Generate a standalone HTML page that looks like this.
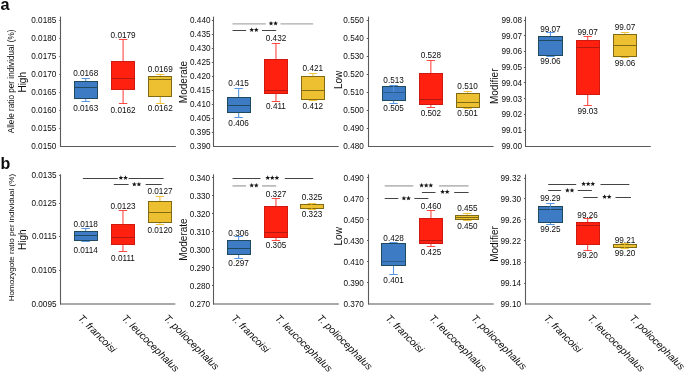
<!DOCTYPE html>
<html><head><meta charset="utf-8"><style>
html,body{margin:0;padding:0;background:#fff;}
body{width:685px;height:372px;overflow:hidden;}
svg{display:block;will-change:transform;}
text{font-family:"Liberation Sans",sans-serif;fill:#0c0c0c;}
</style></head><body>
<svg width="685" height="372" viewBox="0 0 685 372">
<rect width="685" height="372" fill="#fff"/>
<line x1="60.00" y1="146.50" x2="175.80" y2="146.50" stroke="#5a5a5a" stroke-width="1.1"/>
<line x1="60.50" y1="16.60" x2="60.50" y2="146.80" stroke="#5a5a5a" stroke-width="1.1"/>
<line x1="59.30" y1="20.50" x2="60.70" y2="20.50" stroke="#5a5a5a" stroke-width="1"/>
<text x="56.30" y="23.04" font-size="8.2" text-anchor="end" >0.0185</text>
<line x1="59.30" y1="38.50" x2="60.70" y2="38.50" stroke="#5a5a5a" stroke-width="1"/>
<text x="56.30" y="41.04" font-size="8.2" text-anchor="end" >0.0180</text>
<line x1="59.30" y1="56.50" x2="60.70" y2="56.50" stroke="#5a5a5a" stroke-width="1"/>
<text x="56.30" y="59.04" font-size="8.2" text-anchor="end" >0.0175</text>
<line x1="59.30" y1="74.50" x2="60.70" y2="74.50" stroke="#5a5a5a" stroke-width="1"/>
<text x="56.30" y="77.04" font-size="8.2" text-anchor="end" >0.0170</text>
<line x1="59.30" y1="92.50" x2="60.70" y2="92.50" stroke="#5a5a5a" stroke-width="1"/>
<text x="56.30" y="95.04" font-size="8.2" text-anchor="end" >0.0165</text>
<line x1="59.30" y1="110.50" x2="60.70" y2="110.50" stroke="#5a5a5a" stroke-width="1"/>
<text x="56.30" y="113.04" font-size="8.2" text-anchor="end" >0.0160</text>
<line x1="59.30" y1="128.50" x2="60.70" y2="128.50" stroke="#5a5a5a" stroke-width="1"/>
<text x="56.30" y="131.04" font-size="8.2" text-anchor="end" >0.0155</text>
<text x="56.30" y="149.04" font-size="8.2" text-anchor="end" >0.0150</text>
<text x="0" y="0" font-size="10" text-anchor="middle" transform="translate(26.00,82.30) rotate(-90)">High</text>
<line x1="85.75" y1="78.50" x2="85.75" y2="81.00" stroke="#5596e6" stroke-width="1.1"/>
<line x1="85.75" y1="99.00" x2="85.75" y2="101.50" stroke="#5596e6" stroke-width="1.1"/>
<line x1="81.55" y1="78.50" x2="89.95" y2="78.50" stroke="#5596e6" stroke-width="1"/>
<line x1="81.55" y1="101.50" x2="89.95" y2="101.50" stroke="#5596e6" stroke-width="1"/>
<rect x="74.50" y="81.50" width="23.00" height="17.00" fill="#3d7cc4" stroke="#1f4a5e" stroke-width="1"/>
<line x1="74.50" y1="87.50" x2="97.50" y2="87.50" stroke="#1f4a5e" stroke-width="1"/>
<line x1="123.10" y1="39.50" x2="123.10" y2="61.00" stroke="#ff4a44" stroke-width="1.1"/>
<line x1="123.10" y1="90.00" x2="123.10" y2="103.50" stroke="#ff4a44" stroke-width="1.1"/>
<line x1="118.90" y1="39.50" x2="127.30" y2="39.50" stroke="#ff4a44" stroke-width="1"/>
<line x1="118.90" y1="103.50" x2="127.30" y2="103.50" stroke="#ff4a44" stroke-width="1"/>
<rect x="111.50" y="61.50" width="23.00" height="28.00" fill="#ff2010" stroke="#d01a10" stroke-width="1"/>
<line x1="111.50" y1="78.50" x2="134.50" y2="78.50" stroke="#b01a10" stroke-width="1"/>
<line x1="160.25" y1="74.50" x2="160.25" y2="76.00" stroke="#f2c43c" stroke-width="1.1"/>
<line x1="160.25" y1="97.00" x2="160.25" y2="103.50" stroke="#f2c43c" stroke-width="1.1"/>
<line x1="156.05" y1="74.50" x2="164.45" y2="74.50" stroke="#f2c43c" stroke-width="1"/>
<line x1="156.05" y1="103.50" x2="164.45" y2="103.50" stroke="#f2c43c" stroke-width="1"/>
<rect x="148.50" y="76.50" width="23.00" height="20.00" fill="#ecc030" stroke="#806a14" stroke-width="1"/>
<line x1="148.50" y1="79.50" x2="171.50" y2="79.50" stroke="#806a14" stroke-width="1"/>
<text x="85.70" y="76.44" font-size="8.2" text-anchor="middle" >0.0168</text>
<text x="85.70" y="111.24" font-size="8.2" text-anchor="middle" >0.0163</text>
<text x="123.10" y="38.44" font-size="8.2" text-anchor="middle" >0.0179</text>
<text x="123.10" y="112.74" font-size="8.2" text-anchor="middle" >0.0162</text>
<text x="160.20" y="72.14" font-size="8.2" text-anchor="middle" >0.0169</text>
<text x="160.20" y="111.24" font-size="8.2" text-anchor="middle" >0.0162</text>
<line x1="213.00" y1="146.50" x2="338.70" y2="146.50" stroke="#5a5a5a" stroke-width="1.1"/>
<line x1="213.50" y1="16.60" x2="213.50" y2="146.80" stroke="#5a5a5a" stroke-width="1.1"/>
<line x1="211.90" y1="20.50" x2="213.30" y2="20.50" stroke="#5a5a5a" stroke-width="1"/>
<text x="210.50" y="23.04" font-size="8.2" text-anchor="end" >0.440</text>
<line x1="211.90" y1="34.50" x2="213.30" y2="34.50" stroke="#5a5a5a" stroke-width="1"/>
<text x="210.50" y="37.08" font-size="8.2" text-anchor="end" >0.435</text>
<line x1="211.90" y1="48.50" x2="213.30" y2="48.50" stroke="#5a5a5a" stroke-width="1"/>
<text x="210.50" y="51.12" font-size="8.2" text-anchor="end" >0.430</text>
<line x1="211.90" y1="62.50" x2="213.30" y2="62.50" stroke="#5a5a5a" stroke-width="1"/>
<text x="210.50" y="65.16" font-size="8.2" text-anchor="end" >0.425</text>
<line x1="211.90" y1="76.50" x2="213.30" y2="76.50" stroke="#5a5a5a" stroke-width="1"/>
<text x="210.50" y="79.20" font-size="8.2" text-anchor="end" >0.420</text>
<line x1="211.90" y1="90.50" x2="213.30" y2="90.50" stroke="#5a5a5a" stroke-width="1"/>
<text x="210.50" y="93.24" font-size="8.2" text-anchor="end" >0.415</text>
<line x1="211.90" y1="104.50" x2="213.30" y2="104.50" stroke="#5a5a5a" stroke-width="1"/>
<text x="210.50" y="107.28" font-size="8.2" text-anchor="end" >0.410</text>
<line x1="211.90" y1="118.50" x2="213.30" y2="118.50" stroke="#5a5a5a" stroke-width="1"/>
<text x="210.50" y="121.32" font-size="8.2" text-anchor="end" >0.405</text>
<line x1="211.90" y1="132.50" x2="213.30" y2="132.50" stroke="#5a5a5a" stroke-width="1"/>
<text x="210.50" y="135.36" font-size="8.2" text-anchor="end" >0.395</text>
<text x="210.50" y="149.40" font-size="8.2" text-anchor="end" >0.390</text>
<text x="0" y="0" font-size="10" text-anchor="middle" transform="translate(186.90,82.00) rotate(-90)">Moderate</text>
<line x1="238.65" y1="88.50" x2="238.65" y2="97.00" stroke="#5596e6" stroke-width="1.1"/>
<line x1="238.65" y1="113.00" x2="238.65" y2="117.50" stroke="#5596e6" stroke-width="1.1"/>
<line x1="234.45" y1="88.50" x2="242.85" y2="88.50" stroke="#5596e6" stroke-width="1"/>
<line x1="234.45" y1="117.50" x2="242.85" y2="117.50" stroke="#5596e6" stroke-width="1"/>
<rect x="227.50" y="97.50" width="23.00" height="15.00" fill="#3d7cc4" stroke="#1f4a5e" stroke-width="1"/>
<line x1="227.50" y1="105.50" x2="250.50" y2="105.50" stroke="#1f4a5e" stroke-width="1"/>
<line x1="275.95" y1="43.50" x2="275.95" y2="59.00" stroke="#ff4a44" stroke-width="1.1"/>
<line x1="275.95" y1="94.00" x2="275.95" y2="101.50" stroke="#ff4a44" stroke-width="1.1"/>
<line x1="271.75" y1="43.50" x2="280.15" y2="43.50" stroke="#ff4a44" stroke-width="1"/>
<line x1="271.75" y1="101.50" x2="280.15" y2="101.50" stroke="#ff4a44" stroke-width="1"/>
<rect x="264.50" y="59.50" width="23.00" height="34.00" fill="#ff2010" stroke="#d01a10" stroke-width="1"/>
<line x1="264.50" y1="90.50" x2="287.50" y2="90.50" stroke="#b01a10" stroke-width="1"/>
<line x1="312.95" y1="73.50" x2="312.95" y2="76.00" stroke="#f2c43c" stroke-width="1.1"/>
<line x1="312.95" y1="100.00" x2="312.95" y2="100.50" stroke="#f2c43c" stroke-width="1.1"/>
<line x1="308.75" y1="73.50" x2="317.15" y2="73.50" stroke="#f2c43c" stroke-width="1"/>
<line x1="308.75" y1="100.50" x2="317.15" y2="100.50" stroke="#f2c43c" stroke-width="1"/>
<rect x="301.50" y="76.50" width="23.00" height="23.00" fill="#ecc030" stroke="#806a14" stroke-width="1"/>
<line x1="301.50" y1="90.50" x2="324.50" y2="90.50" stroke="#806a14" stroke-width="1"/>
<text x="238.60" y="85.64" font-size="8.2" text-anchor="middle" >0.415</text>
<text x="238.60" y="125.64" font-size="8.2" text-anchor="middle" >0.406</text>
<text x="276.00" y="40.94" font-size="8.2" text-anchor="middle" >0.432</text>
<text x="276.00" y="108.94" font-size="8.2" text-anchor="middle" >0.411</text>
<text x="312.80" y="71.44" font-size="8.2" text-anchor="middle" >0.421</text>
<text x="312.80" y="108.94" font-size="8.2" text-anchor="middle" >0.412</text>
<line x1="232.50" y1="23.90" x2="265.90" y2="23.90" stroke="#ababab" stroke-width="1.4"/>
<line x1="280.50" y1="23.90" x2="313.20" y2="23.90" stroke="#ababab" stroke-width="1.4"/>
<polygon points="271.00,20.94 271.66,22.53 273.38,22.67 272.07,23.79 272.47,25.46 271.00,24.56 269.53,25.46 269.93,23.79 268.62,22.67 270.34,22.53" fill="#1a1a1a"/>
<polygon points="275.60,20.94 276.26,22.53 277.98,22.67 276.67,23.79 277.07,25.46 275.60,24.56 274.13,25.46 274.53,23.79 273.22,22.67 274.94,22.53" fill="#1a1a1a"/>
<line x1="232.50" y1="30.50" x2="246.10" y2="30.50" stroke="#444" stroke-width="1.0"/>
<line x1="262.00" y1="30.50" x2="276.20" y2="30.50" stroke="#444" stroke-width="1.0"/>
<polygon points="251.70,27.44 252.36,29.03 254.08,29.17 252.77,30.29 253.17,31.96 251.70,31.06 250.23,31.96 250.63,30.29 249.32,29.17 251.04,29.03" fill="#1a1a1a"/>
<polygon points="256.30,27.44 256.96,29.03 258.68,29.17 257.37,30.29 257.77,31.96 256.30,31.06 254.83,31.96 255.23,30.29 253.92,29.17 255.64,29.03" fill="#1a1a1a"/>
<line x1="368.00" y1="146.50" x2="493.60" y2="146.50" stroke="#5a5a5a" stroke-width="1.1"/>
<line x1="368.50" y1="16.60" x2="368.50" y2="146.80" stroke="#5a5a5a" stroke-width="1.1"/>
<line x1="366.70" y1="20.50" x2="368.10" y2="20.50" stroke="#5a5a5a" stroke-width="1"/>
<text x="363.80" y="23.04" font-size="8.2" text-anchor="end" >0.550</text>
<line x1="366.70" y1="38.50" x2="368.10" y2="38.50" stroke="#5a5a5a" stroke-width="1"/>
<text x="363.80" y="41.04" font-size="8.2" text-anchor="end" >0.540</text>
<line x1="366.70" y1="56.50" x2="368.10" y2="56.50" stroke="#5a5a5a" stroke-width="1"/>
<text x="363.80" y="59.04" font-size="8.2" text-anchor="end" >0.530</text>
<line x1="366.70" y1="74.50" x2="368.10" y2="74.50" stroke="#5a5a5a" stroke-width="1"/>
<text x="363.80" y="77.04" font-size="8.2" text-anchor="end" >0.520</text>
<line x1="366.70" y1="92.50" x2="368.10" y2="92.50" stroke="#5a5a5a" stroke-width="1"/>
<text x="363.80" y="95.04" font-size="8.2" text-anchor="end" >0.510</text>
<line x1="366.70" y1="110.50" x2="368.10" y2="110.50" stroke="#5a5a5a" stroke-width="1"/>
<text x="363.80" y="113.04" font-size="8.2" text-anchor="end" >0.500</text>
<line x1="366.70" y1="128.50" x2="368.10" y2="128.50" stroke="#5a5a5a" stroke-width="1"/>
<text x="363.80" y="131.04" font-size="8.2" text-anchor="end" >0.490</text>
<text x="363.80" y="149.04" font-size="8.2" text-anchor="end" >0.480</text>
<text x="0" y="0" font-size="10" text-anchor="middle" transform="translate(342.20,79.90) rotate(-90)">Low</text>
<line x1="393.65" y1="85.50" x2="393.65" y2="86.00" stroke="#5596e6" stroke-width="1.1"/>
<line x1="393.65" y1="101.00" x2="393.65" y2="103.50" stroke="#5596e6" stroke-width="1.1"/>
<line x1="389.45" y1="85.50" x2="397.85" y2="85.50" stroke="#5596e6" stroke-width="1"/>
<line x1="389.45" y1="103.50" x2="397.85" y2="103.50" stroke="#5596e6" stroke-width="1"/>
<rect x="382.50" y="86.50" width="23.00" height="14.00" fill="#3d7cc4" stroke="#1f4a5e" stroke-width="1"/>
<line x1="382.50" y1="92.50" x2="405.50" y2="92.50" stroke="#2c5d8c" stroke-width="1"/>
<line x1="393.65" y1="86.00" x2="393.65" y2="92.30" stroke="#5596e6" stroke-width="1.1" opacity="0.8"/>
<line x1="430.85" y1="60.50" x2="430.85" y2="73.00" stroke="#ff4a44" stroke-width="1.1"/>
<line x1="430.85" y1="105.00" x2="430.85" y2="107.50" stroke="#ff4a44" stroke-width="1.1"/>
<line x1="426.65" y1="60.50" x2="435.05" y2="60.50" stroke="#ff4a44" stroke-width="1"/>
<line x1="426.65" y1="107.50" x2="435.05" y2="107.50" stroke="#ff4a44" stroke-width="1"/>
<rect x="419.50" y="73.50" width="23.00" height="31.00" fill="#ff2010" stroke="#d01a10" stroke-width="1"/>
<line x1="419.50" y1="99.50" x2="442.50" y2="99.50" stroke="#b01a10" stroke-width="1"/>
<line x1="467.65" y1="91.50" x2="467.65" y2="93.00" stroke="#f2c43c" stroke-width="1.1"/>
<line x1="467.65" y1="108.00" x2="467.65" y2="108.50" stroke="#f2c43c" stroke-width="1.1"/>
<line x1="463.45" y1="91.50" x2="471.85" y2="91.50" stroke="#f2c43c" stroke-width="1"/>
<line x1="463.45" y1="108.50" x2="471.85" y2="108.50" stroke="#f2c43c" stroke-width="1"/>
<rect x="456.50" y="93.50" width="23.00" height="14.00" fill="#ecc030" stroke="#806a14" stroke-width="1"/>
<line x1="456.50" y1="102.50" x2="479.50" y2="102.50" stroke="#806a14" stroke-width="1"/>
<text x="393.60" y="83.24" font-size="8.2" text-anchor="middle" >0.513</text>
<text x="393.60" y="111.34" font-size="8.2" text-anchor="middle" >0.505</text>
<text x="430.90" y="58.44" font-size="8.2" text-anchor="middle" >0.528</text>
<text x="430.90" y="116.04" font-size="8.2" text-anchor="middle" >0.502</text>
<text x="467.60" y="89.14" font-size="8.2" text-anchor="middle" >0.510</text>
<text x="467.60" y="116.44" font-size="8.2" text-anchor="middle" >0.501</text>
<line x1="525.00" y1="146.50" x2="650.80" y2="146.50" stroke="#5a5a5a" stroke-width="1.1"/>
<line x1="525.50" y1="16.60" x2="525.50" y2="146.80" stroke="#5a5a5a" stroke-width="1.1"/>
<line x1="523.90" y1="20.50" x2="525.30" y2="20.50" stroke="#5a5a5a" stroke-width="1"/>
<text x="522.00" y="23.04" font-size="8.2" text-anchor="end" >99.08</text>
<line x1="523.90" y1="35.50" x2="525.30" y2="35.50" stroke="#5a5a5a" stroke-width="1"/>
<text x="522.00" y="38.74" font-size="8.2" text-anchor="end" >99.07</text>
<line x1="523.90" y1="51.50" x2="525.30" y2="51.50" stroke="#5a5a5a" stroke-width="1"/>
<text x="522.00" y="54.44" font-size="8.2" text-anchor="end" >99.06</text>
<line x1="523.90" y1="67.50" x2="525.30" y2="67.50" stroke="#5a5a5a" stroke-width="1"/>
<text x="522.00" y="70.14" font-size="8.2" text-anchor="end" >99.05</text>
<line x1="523.90" y1="82.50" x2="525.30" y2="82.50" stroke="#5a5a5a" stroke-width="1"/>
<text x="522.00" y="85.84" font-size="8.2" text-anchor="end" >99.04</text>
<line x1="523.90" y1="98.50" x2="525.30" y2="98.50" stroke="#5a5a5a" stroke-width="1"/>
<text x="522.00" y="101.54" font-size="8.2" text-anchor="end" >99.03</text>
<line x1="523.90" y1="114.50" x2="525.30" y2="114.50" stroke="#5a5a5a" stroke-width="1"/>
<text x="522.00" y="117.24" font-size="8.2" text-anchor="end" >99.02</text>
<line x1="523.90" y1="130.50" x2="525.30" y2="130.50" stroke="#5a5a5a" stroke-width="1"/>
<text x="522.00" y="132.94" font-size="8.2" text-anchor="end" >99.01</text>
<text x="522.00" y="148.64" font-size="8.2" text-anchor="end" >99.00</text>
<text x="0" y="0" font-size="10" text-anchor="middle" transform="translate(498.00,86.30) rotate(-90)">Modifier</text>
<line x1="550.45" y1="32.50" x2="550.45" y2="36.00" stroke="#5596e6" stroke-width="1.1"/>
<line x1="550.45" y1="56.00" x2="550.45" y2="56.50" stroke="#5596e6" stroke-width="1.1"/>
<line x1="546.25" y1="32.50" x2="554.65" y2="32.50" stroke="#5596e6" stroke-width="1"/>
<line x1="546.25" y1="56.50" x2="554.65" y2="56.50" stroke="#5596e6" stroke-width="1"/>
<rect x="538.50" y="36.50" width="24.00" height="19.00" fill="#3d7cc4" stroke="#1f4a5e" stroke-width="1"/>
<line x1="538.50" y1="40.50" x2="562.50" y2="40.50" stroke="#1f4a5e" stroke-width="1"/>
<line x1="587.70" y1="36.50" x2="587.70" y2="40.00" stroke="#ff4a44" stroke-width="1.1"/>
<line x1="587.70" y1="95.00" x2="587.70" y2="105.50" stroke="#ff4a44" stroke-width="1.1"/>
<line x1="583.50" y1="36.50" x2="591.90" y2="36.50" stroke="#ff4a44" stroke-width="1"/>
<line x1="583.50" y1="105.50" x2="591.90" y2="105.50" stroke="#ff4a44" stroke-width="1"/>
<rect x="576.50" y="40.50" width="23.00" height="54.00" fill="#ff2010" stroke="#d01a10" stroke-width="1"/>
<line x1="576.50" y1="47.50" x2="599.50" y2="47.50" stroke="#b01a10" stroke-width="1"/>
<line x1="625.00" y1="32.50" x2="625.00" y2="34.00" stroke="#f2c43c" stroke-width="1.1"/>
<line x1="625.00" y1="57.00" x2="625.00" y2="57.50" stroke="#f2c43c" stroke-width="1.1"/>
<line x1="620.80" y1="32.50" x2="629.20" y2="32.50" stroke="#f2c43c" stroke-width="1"/>
<line x1="620.80" y1="57.50" x2="629.20" y2="57.50" stroke="#f2c43c" stroke-width="1"/>
<rect x="613.50" y="34.50" width="23.00" height="22.00" fill="#ecc030" stroke="#806a14" stroke-width="1"/>
<line x1="613.50" y1="45.50" x2="636.50" y2="45.50" stroke="#806a14" stroke-width="1"/>
<text x="550.40" y="31.84" font-size="8.2" text-anchor="middle" >99.07</text>
<text x="550.40" y="63.84" font-size="8.2" text-anchor="middle" >99.06</text>
<text x="587.70" y="35.04" font-size="8.2" text-anchor="middle" >99.07</text>
<text x="587.70" y="113.84" font-size="8.2" text-anchor="middle" >99.03</text>
<text x="625.00" y="30.44" font-size="8.2" text-anchor="middle" >99.07</text>
<text x="625.00" y="65.94" font-size="8.2" text-anchor="middle" >99.06</text>
<line x1="60.00" y1="304.00" x2="175.30" y2="304.00" stroke="#8c8c8c" stroke-width="1.5"/>
<line x1="60.50" y1="174.30" x2="60.50" y2="304.50" stroke="#5a5a5a" stroke-width="1.1"/>
<line x1="59.10" y1="175.50" x2="60.50" y2="175.50" stroke="#5a5a5a" stroke-width="1"/>
<text x="56.50" y="178.44" font-size="8.2" text-anchor="end" >0.0135</text>
<line x1="59.10" y1="203.50" x2="60.50" y2="203.50" stroke="#5a5a5a" stroke-width="1"/>
<text x="56.50" y="206.24" font-size="8.2" text-anchor="end" >0.0125</text>
<line x1="59.10" y1="236.50" x2="60.50" y2="236.50" stroke="#5a5a5a" stroke-width="1"/>
<text x="56.50" y="239.44" font-size="8.2" text-anchor="end" >0.0115</text>
<line x1="59.10" y1="270.50" x2="60.50" y2="270.50" stroke="#5a5a5a" stroke-width="1"/>
<text x="56.50" y="273.24" font-size="8.2" text-anchor="end" >0.0105</text>
<text x="56.50" y="306.94" font-size="8.2" text-anchor="end" >0.0095</text>
<text x="0" y="0" font-size="10" text-anchor="middle" transform="translate(26.00,239.70) rotate(-90)">High</text>
<line x1="85.65" y1="228.50" x2="85.65" y2="231.00" stroke="#5596e6" stroke-width="1.1"/>
<line x1="85.65" y1="241.00" x2="85.65" y2="241.50" stroke="#5596e6" stroke-width="1.1"/>
<line x1="81.45" y1="228.50" x2="89.85" y2="228.50" stroke="#5596e6" stroke-width="1"/>
<line x1="81.45" y1="241.50" x2="89.85" y2="241.50" stroke="#5596e6" stroke-width="1"/>
<rect x="74.50" y="231.50" width="23.00" height="9.00" fill="#3d7cc4" stroke="#1f4a5e" stroke-width="1"/>
<line x1="74.50" y1="235.50" x2="97.50" y2="235.50" stroke="#1f4a5e" stroke-width="1"/>
<line x1="122.95" y1="210.50" x2="122.95" y2="224.00" stroke="#ff4a44" stroke-width="1.1"/>
<line x1="122.95" y1="245.00" x2="122.95" y2="251.50" stroke="#ff4a44" stroke-width="1.1"/>
<line x1="118.75" y1="210.50" x2="127.15" y2="210.50" stroke="#ff4a44" stroke-width="1"/>
<line x1="118.75" y1="251.50" x2="127.15" y2="251.50" stroke="#ff4a44" stroke-width="1"/>
<rect x="111.50" y="224.50" width="23.00" height="20.00" fill="#ff2010" stroke="#d01a10" stroke-width="1"/>
<line x1="111.50" y1="237.50" x2="134.50" y2="237.50" stroke="#b01a10" stroke-width="1"/>
<line x1="159.90" y1="196.50" x2="159.90" y2="201.00" stroke="#f2c43c" stroke-width="1.1"/>
<line x1="159.90" y1="223.00" x2="159.90" y2="224.50" stroke="#f2c43c" stroke-width="1.1"/>
<line x1="155.70" y1="196.50" x2="164.10" y2="196.50" stroke="#f2c43c" stroke-width="1"/>
<line x1="155.70" y1="224.50" x2="164.10" y2="224.50" stroke="#f2c43c" stroke-width="1"/>
<rect x="148.50" y="201.50" width="23.00" height="21.00" fill="#ecc030" stroke="#806a14" stroke-width="1"/>
<line x1="148.50" y1="212.50" x2="171.50" y2="212.50" stroke="#806a14" stroke-width="1"/>
<text x="85.60" y="226.94" font-size="8.2" text-anchor="middle" >0.0118</text>
<text x="85.60" y="253.14" font-size="8.2" text-anchor="middle" >0.0114</text>
<text x="123.00" y="209.24" font-size="8.2" text-anchor="middle" >0.0123</text>
<text x="123.00" y="260.94" font-size="8.2" text-anchor="middle" >0.0111</text>
<text x="160.00" y="194.44" font-size="8.2" text-anchor="middle" >0.0127</text>
<text x="160.00" y="233.44" font-size="8.2" text-anchor="middle" >0.0120</text>
<line x1="82.90" y1="178.50" x2="117.80" y2="178.50" stroke="#444" stroke-width="1.0"/>
<line x1="128.60" y1="178.50" x2="163.60" y2="178.50" stroke="#444" stroke-width="1.0"/>
<polygon points="120.90,175.34 121.56,176.93 123.28,177.07 121.97,178.19 122.37,179.86 120.90,178.96 119.43,179.86 119.83,178.19 118.52,177.07 120.24,176.93" fill="#1a1a1a"/>
<polygon points="125.50,175.34 126.16,176.93 127.88,177.07 126.57,178.19 126.97,179.86 125.50,178.96 124.03,179.86 124.43,178.19 123.12,177.07 124.84,176.93" fill="#1a1a1a"/>
<line x1="113.80" y1="184.50" x2="128.60" y2="184.50" stroke="#444" stroke-width="1.0"/>
<line x1="145.60" y1="184.50" x2="161.70" y2="184.50" stroke="#444" stroke-width="1.0"/>
<polygon points="134.30,181.84 134.96,183.43 136.68,183.57 135.37,184.69 135.77,186.36 134.30,185.46 132.83,186.36 133.23,184.69 131.92,183.57 133.64,183.43" fill="#1a1a1a"/>
<polygon points="138.90,181.84 139.56,183.43 141.28,183.57 139.97,184.69 140.37,186.36 138.90,185.46 137.43,186.36 137.83,184.69 136.52,183.57 138.24,183.43" fill="#1a1a1a"/>
<line x1="213.00" y1="304.00" x2="338.80" y2="304.00" stroke="#8c8c8c" stroke-width="1.5"/>
<line x1="213.50" y1="174.30" x2="213.50" y2="304.50" stroke="#5a5a5a" stroke-width="1.1"/>
<line x1="212.00" y1="177.50" x2="213.40" y2="177.50" stroke="#5a5a5a" stroke-width="1"/>
<text x="210.20" y="180.84" font-size="8.2" text-anchor="end" >0.340</text>
<line x1="212.00" y1="195.50" x2="213.40" y2="195.50" stroke="#5a5a5a" stroke-width="1"/>
<text x="210.20" y="198.84" font-size="8.2" text-anchor="end" >0.330</text>
<line x1="212.00" y1="213.50" x2="213.40" y2="213.50" stroke="#5a5a5a" stroke-width="1"/>
<text x="210.20" y="216.84" font-size="8.2" text-anchor="end" >0.320</text>
<line x1="212.00" y1="231.50" x2="213.40" y2="231.50" stroke="#5a5a5a" stroke-width="1"/>
<text x="210.20" y="234.84" font-size="8.2" text-anchor="end" >0.310</text>
<line x1="212.00" y1="249.50" x2="213.40" y2="249.50" stroke="#5a5a5a" stroke-width="1"/>
<text x="210.20" y="252.84" font-size="8.2" text-anchor="end" >0.300</text>
<line x1="212.00" y1="267.50" x2="213.40" y2="267.50" stroke="#5a5a5a" stroke-width="1"/>
<text x="210.20" y="270.84" font-size="8.2" text-anchor="end" >0.290</text>
<line x1="212.00" y1="285.50" x2="213.40" y2="285.50" stroke="#5a5a5a" stroke-width="1"/>
<text x="210.20" y="288.84" font-size="8.2" text-anchor="end" >0.280</text>
<text x="210.20" y="306.84" font-size="8.2" text-anchor="end" >0.270</text>
<text x="0" y="0" font-size="10" text-anchor="middle" transform="translate(186.90,239.50) rotate(-90)">Moderate</text>
<line x1="238.65" y1="236.50" x2="238.65" y2="240.00" stroke="#5596e6" stroke-width="1.1"/>
<line x1="238.65" y1="255.00" x2="238.65" y2="258.50" stroke="#5596e6" stroke-width="1.1"/>
<line x1="234.45" y1="236.50" x2="242.85" y2="236.50" stroke="#5596e6" stroke-width="1"/>
<line x1="234.45" y1="258.50" x2="242.85" y2="258.50" stroke="#5596e6" stroke-width="1"/>
<rect x="227.50" y="240.50" width="23.00" height="14.00" fill="#3d7cc4" stroke="#1f4a5e" stroke-width="1"/>
<line x1="227.50" y1="248.50" x2="250.50" y2="248.50" stroke="#1f4a5e" stroke-width="1"/>
<line x1="275.95" y1="198.50" x2="275.95" y2="206.00" stroke="#ff4a44" stroke-width="1.1"/>
<line x1="275.95" y1="238.00" x2="275.95" y2="240.50" stroke="#ff4a44" stroke-width="1.1"/>
<line x1="271.75" y1="198.50" x2="280.15" y2="198.50" stroke="#ff4a44" stroke-width="1"/>
<line x1="271.75" y1="240.50" x2="280.15" y2="240.50" stroke="#ff4a44" stroke-width="1"/>
<rect x="264.50" y="206.50" width="23.00" height="31.00" fill="#ff2010" stroke="#d01a10" stroke-width="1"/>
<line x1="264.50" y1="232.50" x2="287.50" y2="232.50" stroke="#b01a10" stroke-width="1"/>
<line x1="311.75" y1="203.50" x2="311.75" y2="204.00" stroke="#f2c43c" stroke-width="1.1"/>
<line x1="311.75" y1="209.00" x2="311.75" y2="209.50" stroke="#f2c43c" stroke-width="1.1"/>
<line x1="307.55" y1="203.50" x2="315.95" y2="203.50" stroke="#f2c43c" stroke-width="1"/>
<line x1="307.55" y1="209.50" x2="315.95" y2="209.50" stroke="#f2c43c" stroke-width="1"/>
<rect x="300.50" y="204.50" width="23.00" height="4.00" fill="#ecc030" stroke="#806a14" stroke-width="1"/>
<line x1="311.75" y1="204.00" x2="311.75" y2="209.00" stroke="#f2c43c" stroke-width="1.1" opacity="0.8"/>
<text x="238.60" y="236.14" font-size="8.2" text-anchor="middle" >0.306</text>
<text x="238.60" y="265.94" font-size="8.2" text-anchor="middle" >0.297</text>
<text x="276.00" y="196.94" font-size="8.2" text-anchor="middle" >0.327</text>
<text x="276.00" y="247.84" font-size="8.2" text-anchor="middle" >0.305</text>
<text x="312.00" y="200.24" font-size="8.2" text-anchor="middle" >0.325</text>
<text x="312.00" y="217.44" font-size="8.2" text-anchor="middle" >0.323</text>
<line x1="232.50" y1="178.50" x2="260.50" y2="178.50" stroke="#444" stroke-width="1.0"/>
<line x1="284.80" y1="178.50" x2="313.20" y2="178.50" stroke="#444" stroke-width="1.0"/>
<polygon points="267.70,175.34 268.36,176.93 270.08,177.07 268.77,178.19 269.17,179.86 267.70,178.96 266.23,179.86 266.63,178.19 265.32,177.07 267.04,176.93" fill="#1a1a1a"/>
<polygon points="272.30,175.34 272.96,176.93 274.68,177.07 273.37,178.19 273.77,179.86 272.30,178.96 270.83,179.86 271.23,178.19 269.92,177.07 271.64,176.93" fill="#1a1a1a"/>
<polygon points="276.90,175.34 277.56,176.93 279.28,177.07 277.97,178.19 278.37,179.86 276.90,178.96 275.43,179.86 275.83,178.19 274.52,177.07 276.24,176.93" fill="#1a1a1a"/>
<line x1="232.50" y1="185.90" x2="246.10" y2="185.90" stroke="#ababab" stroke-width="1.4"/>
<line x1="262.00" y1="185.90" x2="276.20" y2="185.90" stroke="#ababab" stroke-width="1.4"/>
<polygon points="251.70,182.94 252.36,184.53 254.08,184.67 252.77,185.79 253.17,187.46 251.70,186.56 250.23,187.46 250.63,185.79 249.32,184.67 251.04,184.53" fill="#1a1a1a"/>
<polygon points="256.30,182.94 256.96,184.53 258.68,184.67 257.37,185.79 257.77,187.46 256.30,186.56 254.83,187.46 255.23,185.79 253.92,184.67 255.64,184.53" fill="#1a1a1a"/>
<line x1="368.00" y1="304.00" x2="493.70" y2="304.00" stroke="#8c8c8c" stroke-width="1.5"/>
<line x1="368.50" y1="174.30" x2="368.50" y2="304.50" stroke="#5a5a5a" stroke-width="1.1"/>
<line x1="367.00" y1="177.50" x2="368.40" y2="177.50" stroke="#5a5a5a" stroke-width="1"/>
<text x="363.90" y="180.84" font-size="8.2" text-anchor="end" >0.490</text>
<line x1="367.00" y1="198.50" x2="368.40" y2="198.50" stroke="#5a5a5a" stroke-width="1"/>
<text x="363.90" y="201.84" font-size="8.2" text-anchor="end" >0.470</text>
<line x1="367.00" y1="219.50" x2="368.40" y2="219.50" stroke="#5a5a5a" stroke-width="1"/>
<text x="363.90" y="222.84" font-size="8.2" text-anchor="end" >0.450</text>
<line x1="367.00" y1="240.50" x2="368.40" y2="240.50" stroke="#5a5a5a" stroke-width="1"/>
<text x="363.90" y="243.84" font-size="8.2" text-anchor="end" >0.430</text>
<line x1="367.00" y1="261.50" x2="368.40" y2="261.50" stroke="#5a5a5a" stroke-width="1"/>
<text x="363.90" y="264.84" font-size="8.2" text-anchor="end" >0.410</text>
<line x1="367.00" y1="282.50" x2="368.40" y2="282.50" stroke="#5a5a5a" stroke-width="1"/>
<text x="363.90" y="285.84" font-size="8.2" text-anchor="end" >0.390</text>
<text x="363.90" y="306.84" font-size="8.2" text-anchor="end" >0.370</text>
<text x="0" y="0" font-size="10" text-anchor="middle" transform="translate(342.20,236.30) rotate(-90)">Low</text>
<line x1="393.50" y1="242.50" x2="393.50" y2="243.00" stroke="#5596e6" stroke-width="1.1"/>
<line x1="393.50" y1="266.00" x2="393.50" y2="274.50" stroke="#5596e6" stroke-width="1.1"/>
<line x1="389.30" y1="242.50" x2="397.70" y2="242.50" stroke="#5596e6" stroke-width="1"/>
<line x1="389.30" y1="274.50" x2="397.70" y2="274.50" stroke="#5596e6" stroke-width="1"/>
<rect x="381.50" y="243.50" width="24.00" height="22.00" fill="#3d7cc4" stroke="#1f4a5e" stroke-width="1"/>
<line x1="381.50" y1="261.50" x2="405.50" y2="261.50" stroke="#2c5d8c" stroke-width="1"/>
<line x1="430.95" y1="210.50" x2="430.95" y2="218.00" stroke="#ff4a44" stroke-width="1.1"/>
<line x1="430.95" y1="244.00" x2="430.95" y2="246.50" stroke="#ff4a44" stroke-width="1.1"/>
<line x1="426.75" y1="210.50" x2="435.15" y2="210.50" stroke="#ff4a44" stroke-width="1"/>
<line x1="426.75" y1="246.50" x2="435.15" y2="246.50" stroke="#ff4a44" stroke-width="1"/>
<rect x="419.50" y="218.50" width="23.00" height="25.00" fill="#ff2010" stroke="#d01a10" stroke-width="1"/>
<line x1="419.50" y1="240.50" x2="442.50" y2="240.50" stroke="#b01a10" stroke-width="1"/>
<line x1="467.20" y1="213.50" x2="467.20" y2="215.00" stroke="#f2c43c" stroke-width="1.1"/>
<line x1="467.20" y1="220.00" x2="467.20" y2="220.50" stroke="#f2c43c" stroke-width="1.1"/>
<line x1="463.00" y1="213.50" x2="471.40" y2="213.50" stroke="#f2c43c" stroke-width="1"/>
<line x1="463.00" y1="220.50" x2="471.40" y2="220.50" stroke="#f2c43c" stroke-width="1"/>
<rect x="455.50" y="215.50" width="23.00" height="4.00" fill="#ecc030" stroke="#806a14" stroke-width="1"/>
<line x1="455.50" y1="217.50" x2="478.50" y2="217.50" stroke="#806a14" stroke-width="1"/>
<text x="393.60" y="240.74" font-size="8.2" text-anchor="middle" >0.428</text>
<text x="393.60" y="283.04" font-size="8.2" text-anchor="middle" >0.401</text>
<text x="431.00" y="208.84" font-size="8.2" text-anchor="middle" >0.460</text>
<text x="431.00" y="254.54" font-size="8.2" text-anchor="middle" >0.425</text>
<text x="467.40" y="210.94" font-size="8.2" text-anchor="middle" >0.455</text>
<text x="467.40" y="228.84" font-size="8.2" text-anchor="middle" >0.450</text>
<line x1="384.70" y1="185.90" x2="413.30" y2="185.90" stroke="#ababab" stroke-width="1.4"/>
<line x1="439.10" y1="185.90" x2="468.60" y2="185.90" stroke="#ababab" stroke-width="1.4"/>
<polygon points="421.60,182.94 422.26,184.53 423.98,184.67 422.67,185.79 423.07,187.46 421.60,186.56 420.13,187.46 420.53,185.79 419.22,184.67 420.94,184.53" fill="#1a1a1a"/>
<polygon points="426.20,182.94 426.86,184.53 428.58,184.67 427.27,185.79 427.67,187.46 426.20,186.56 424.73,187.46 425.13,185.79 423.82,184.67 425.54,184.53" fill="#1a1a1a"/>
<polygon points="430.80,182.94 431.46,184.53 433.18,184.67 431.87,185.79 432.27,187.46 430.80,186.56 429.33,187.46 429.73,185.79 428.42,184.67 430.14,184.53" fill="#1a1a1a"/>
<line x1="421.90" y1="192.50" x2="435.50" y2="192.50" stroke="#444" stroke-width="1.0"/>
<line x1="454.20" y1="192.50" x2="468.60" y2="192.50" stroke="#444" stroke-width="1.0"/>
<polygon points="442.60,189.34 443.26,190.93 444.98,191.07 443.67,192.19 444.07,193.86 442.60,192.96 441.13,193.86 441.53,192.19 440.22,191.07 441.94,190.93" fill="#1a1a1a"/>
<polygon points="447.20,189.34 447.86,190.93 449.58,191.07 448.27,192.19 448.67,193.86 447.20,192.96 445.73,193.86 446.13,192.19 444.82,191.07 446.54,190.93" fill="#1a1a1a"/>
<line x1="384.70" y1="198.50" x2="398.30" y2="198.50" stroke="#444" stroke-width="1.0"/>
<line x1="414.40" y1="198.50" x2="428.40" y2="198.50" stroke="#444" stroke-width="1.0"/>
<polygon points="403.90,195.84 404.56,197.43 406.28,197.57 404.97,198.69 405.37,200.36 403.90,199.46 402.43,200.36 402.83,198.69 401.52,197.57 403.24,197.43" fill="#1a1a1a"/>
<polygon points="408.50,195.84 409.16,197.43 410.88,197.57 409.57,198.69 409.97,200.36 408.50,199.46 407.03,200.36 407.43,198.69 406.12,197.57 407.84,197.43" fill="#1a1a1a"/>
<line x1="525.00" y1="304.00" x2="650.80" y2="304.00" stroke="#8c8c8c" stroke-width="1.5"/>
<line x1="525.50" y1="174.30" x2="525.50" y2="304.50" stroke="#5a5a5a" stroke-width="1.1"/>
<line x1="524.10" y1="178.50" x2="525.50" y2="178.50" stroke="#5a5a5a" stroke-width="1"/>
<text x="521.00" y="181.24" font-size="8.2" text-anchor="end" >99.32</text>
<line x1="524.10" y1="198.50" x2="525.50" y2="198.50" stroke="#5a5a5a" stroke-width="1"/>
<text x="521.00" y="201.64" font-size="8.2" text-anchor="end" >99.30</text>
<line x1="524.10" y1="219.50" x2="525.50" y2="219.50" stroke="#5a5a5a" stroke-width="1"/>
<text x="521.00" y="222.74" font-size="8.2" text-anchor="end" >99.26</text>
<line x1="524.10" y1="240.50" x2="525.50" y2="240.50" stroke="#5a5a5a" stroke-width="1"/>
<text x="521.00" y="243.54" font-size="8.2" text-anchor="end" >99.22</text>
<line x1="524.10" y1="262.50" x2="525.50" y2="262.50" stroke="#5a5a5a" stroke-width="1"/>
<text x="521.00" y="264.94" font-size="8.2" text-anchor="end" >99.18</text>
<line x1="524.10" y1="283.50" x2="525.50" y2="283.50" stroke="#5a5a5a" stroke-width="1"/>
<text x="521.00" y="286.04" font-size="8.2" text-anchor="end" >99.14</text>
<text x="521.00" y="306.54" font-size="8.2" text-anchor="end" >99.10</text>
<text x="0" y="0" font-size="10" text-anchor="middle" transform="translate(498.00,244.00) rotate(-90)">Modifier</text>
<line x1="550.45" y1="203.50" x2="550.45" y2="206.00" stroke="#5596e6" stroke-width="1.1"/>
<line x1="550.45" y1="223.00" x2="550.45" y2="224.50" stroke="#5596e6" stroke-width="1.1"/>
<line x1="546.25" y1="203.50" x2="554.65" y2="203.50" stroke="#5596e6" stroke-width="1"/>
<line x1="546.25" y1="224.50" x2="554.65" y2="224.50" stroke="#5596e6" stroke-width="1"/>
<rect x="538.50" y="206.50" width="24.00" height="16.00" fill="#3d7cc4" stroke="#1f4a5e" stroke-width="1"/>
<line x1="538.50" y1="209.50" x2="562.50" y2="209.50" stroke="#1f4a5e" stroke-width="1"/>
<line x1="550.45" y1="206.00" x2="550.45" y2="209.60" stroke="#5596e6" stroke-width="1.1" opacity="0.8"/>
<line x1="587.65" y1="218.50" x2="587.65" y2="222.00" stroke="#ff4a44" stroke-width="1.1"/>
<line x1="587.65" y1="245.00" x2="587.65" y2="250.50" stroke="#ff4a44" stroke-width="1.1"/>
<line x1="583.45" y1="218.50" x2="591.85" y2="218.50" stroke="#ff4a44" stroke-width="1"/>
<line x1="583.45" y1="250.50" x2="591.85" y2="250.50" stroke="#ff4a44" stroke-width="1"/>
<rect x="576.50" y="222.50" width="23.00" height="22.00" fill="#ff2010" stroke="#d01a10" stroke-width="1"/>
<line x1="576.50" y1="225.50" x2="599.50" y2="225.50" stroke="#b01a10" stroke-width="1"/>
<line x1="624.70" y1="243.50" x2="624.70" y2="244.00" stroke="#f2c43c" stroke-width="1.1"/>
<line x1="624.70" y1="248.00" x2="624.70" y2="248.50" stroke="#f2c43c" stroke-width="1.1"/>
<line x1="620.50" y1="243.50" x2="628.90" y2="243.50" stroke="#f2c43c" stroke-width="1"/>
<line x1="620.50" y1="248.50" x2="628.90" y2="248.50" stroke="#f2c43c" stroke-width="1"/>
<rect x="613.50" y="244.50" width="23.00" height="3.00" fill="#ecc030" stroke="#806a14" stroke-width="1"/>
<line x1="624.70" y1="244.00" x2="624.70" y2="248.00" stroke="#f2c43c" stroke-width="1.1" opacity="0.8"/>
<text x="550.40" y="200.54" font-size="8.2" text-anchor="middle" >99.29</text>
<text x="550.40" y="232.34" font-size="8.2" text-anchor="middle" >99.25</text>
<text x="587.60" y="217.64" font-size="8.2" text-anchor="middle" >99.26</text>
<text x="587.60" y="258.14" font-size="8.2" text-anchor="middle" >99.20</text>
<text x="625.00" y="242.94" font-size="8.2" text-anchor="middle" >99.21</text>
<text x="625.00" y="255.84" font-size="8.2" text-anchor="middle" >99.20</text>
<line x1="548.20" y1="184.50" x2="576.20" y2="184.50" stroke="#444" stroke-width="1.0"/>
<line x1="600.50" y1="184.50" x2="629.30" y2="184.50" stroke="#444" stroke-width="1.0"/>
<polygon points="583.60,181.44 584.26,183.03 585.98,183.17 584.67,184.29 585.07,185.96 583.60,185.06 582.13,185.96 582.53,184.29 581.22,183.17 582.94,183.03" fill="#1a1a1a"/>
<polygon points="588.20,181.44 588.86,183.03 590.58,183.17 589.27,184.29 589.67,185.96 588.20,185.06 586.73,185.96 587.13,184.29 585.82,183.17 587.54,183.03" fill="#1a1a1a"/>
<polygon points="592.80,181.44 593.46,183.03 595.18,183.17 593.87,184.29 594.27,185.96 592.80,185.06 591.33,185.96 591.73,184.29 590.42,183.17 592.14,183.03" fill="#1a1a1a"/>
<line x1="548.20" y1="190.50" x2="561.10" y2="190.50" stroke="#444" stroke-width="1.0"/>
<line x1="577.70" y1="190.50" x2="591.90" y2="190.50" stroke="#444" stroke-width="1.0"/>
<polygon points="567.40,187.94 568.06,189.53 569.78,189.67 568.47,190.79 568.87,192.46 567.40,191.56 565.93,192.46 566.33,190.79 565.02,189.67 566.74,189.53" fill="#1a1a1a"/>
<polygon points="572.00,187.94 572.66,189.53 574.38,189.67 573.07,190.79 573.47,192.46 572.00,191.56 570.53,192.46 570.93,190.79 569.62,189.67 571.34,189.53" fill="#1a1a1a"/>
<line x1="583.30" y1="197.50" x2="597.70" y2="197.50" stroke="#444" stroke-width="1.0"/>
<line x1="615.50" y1="197.50" x2="631.00" y2="197.50" stroke="#444" stroke-width="1.0"/>
<polygon points="604.60,194.34 605.26,195.93 606.98,196.07 605.67,197.19 606.07,198.86 604.60,197.96 603.13,198.86 603.53,197.19 602.22,196.07 603.94,195.93" fill="#1a1a1a"/>
<polygon points="609.20,194.34 609.86,195.93 611.58,196.07 610.27,197.19 610.67,198.86 609.20,197.96 607.73,198.86 608.13,197.19 606.82,196.07 608.54,195.93" fill="#1a1a1a"/>
<text x="0.6" y="10.0" font-size="16.3" font-weight="bold" text-anchor="start">a</text>
<text x="0.5" y="168.5" font-size="16" font-weight="bold" text-anchor="start">b</text>
<text x="0" y="0" font-size="8.2" text-anchor="middle" transform="translate(14.1,81.4) rotate(-90)">Allele ratio per individual (%)</text>
<text x="0" y="0" font-size="8.05" text-anchor="middle" transform="translate(13.8,237.6) rotate(-90)">Homozygote ratio per individual (%)</text>
<text x="0" y="0" font-size="10.2" font-style="italic" text-anchor="start" transform="translate(77.60,318.80) rotate(45)">T. francoisi</text>
<text x="0" y="0" font-size="10.2" font-style="italic" text-anchor="start" transform="translate(121.30,318.80) rotate(45)">T. leucocephalus</text>
<text x="0" y="0" font-size="10.2" font-style="italic" text-anchor="start" transform="translate(163.30,318.80) rotate(45)">T. poliocephalus</text>
<text x="0" y="0" font-size="10.2" font-style="italic" text-anchor="start" transform="translate(230.80,318.80) rotate(45)">T. francoisi</text>
<text x="0" y="0" font-size="10.2" font-style="italic" text-anchor="start" transform="translate(274.50,318.80) rotate(45)">T. leucocephalus</text>
<text x="0" y="0" font-size="10.2" font-style="italic" text-anchor="start" transform="translate(316.50,318.80) rotate(45)">T. poliocephalus</text>
<text x="0" y="0" font-size="10.2" font-style="italic" text-anchor="start" transform="translate(385.10,318.80) rotate(45)">T. francoisi</text>
<text x="0" y="0" font-size="10.2" font-style="italic" text-anchor="start" transform="translate(428.80,318.80) rotate(45)">T. leucocephalus</text>
<text x="0" y="0" font-size="10.2" font-style="italic" text-anchor="start" transform="translate(470.80,318.80) rotate(45)">T. poliocephalus</text>
<text x="0" y="0" font-size="10.2" font-style="italic" text-anchor="start" transform="translate(543.20,318.80) rotate(45)">T. francoisi</text>
<text x="0" y="0" font-size="10.2" font-style="italic" text-anchor="start" transform="translate(586.90,318.80) rotate(45)">T. leucocephalus</text>
<text x="0" y="0" font-size="10.2" font-style="italic" text-anchor="start" transform="translate(628.90,318.80) rotate(45)">T. poliocephalus</text>
</svg>
</body></html>
